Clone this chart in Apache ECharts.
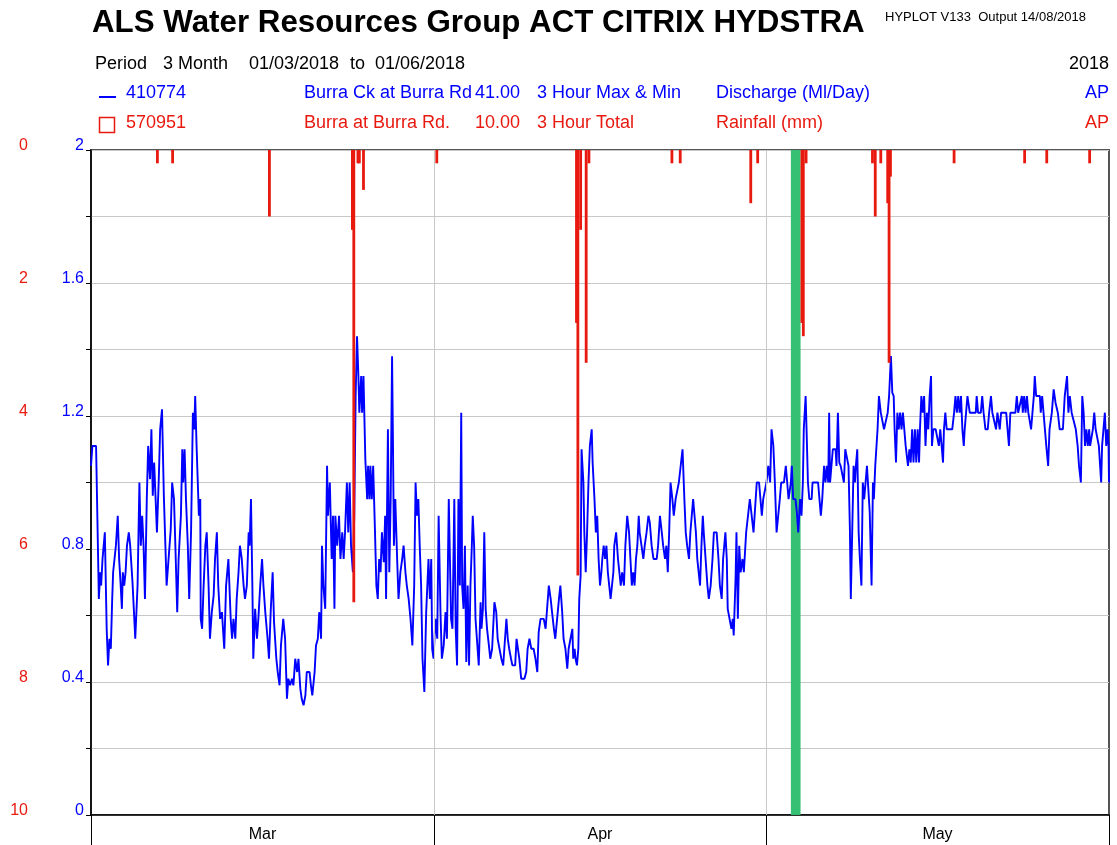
<!DOCTYPE html>
<html>
<head>
<meta charset="utf-8">
<title>Burra Ck at Burra Rd - Discharge and Rainfall</title>
<script src="https://cdn.jsdelivr.net/npm/echarts@6/dist/echarts.min.js"></script>
<style>
  html, body { margin: 0; padding: 0; background: #fff; }
  #chart { width: 1117px; height: 845px; }
</style>
</head>
<body>
<div id="chart"></div>
<script>
// Period 01/03/2018 to 01/06/2018; x values are hours since 01/03/2018 00:00
const monthNames = ['Mar', 'Apr', 'May'];
const monthStartHours = [0, 744, 1464, 2208];

// 410774 Burra Ck at Burra Rd - discharge (Ml/Day), 3 hour max & min  [hour, value]
const discharge = [
  [0,1.05],[3,1.11],[11,1.11],[16,0.73],[17,0.65],[20,0.73],[22,0.69],[25,0.77],[30,0.85],[34,0.56],
  [37,0.45],[40,0.53],[43,0.50],[46,0.65],[48,0.73],[51,0.77],[54,0.81],[58,0.90],[61,0.77],[64,0.70],
  [67,0.62],[69,0.73],[72,0.69],[75,0.73],[78,0.81],[82,0.85],[85,0.81],[90,0.70],[96,0.53],[101,0.69],
  [105,1.00],[108,0.81],[111,0.90],[114,0.81],[117,0.65],[121,0.95],[124,1.11],[128,1.01],[131,1.16],[134,0.96],
  [137,1.06],[143,0.85],[147,1.01],[150,1.16],[154,1.22],[158,0.96],[164,0.69],[168,0.69],[173,0.86],[176,1.00],
  [180,0.95],[183,0.81],[187,0.61],[190,0.77],[195,0.90],[198,1.10],[200,1.00],[203,1.10],[206,0.95],[210,0.81],
  [213,0.65],[217,0.85],[221,1.21],[224,1.16],[226,1.26],[229,1.11],[234,0.90],[237,0.95],[238,0.59],[241,0.56],
  [244,0.68],[248,0.81],[251,0.85],[255,0.69],[258,0.53],[262,0.61],[266,0.66],[269,0.77],[273,0.85],[276,0.69],
  [280,0.59],[284,0.61],[289,0.50],[293,0.69],[298,0.77],[303,0.59],[306,0.53],[309,0.59],[313,0.53],[316,0.65],
  [320,0.73],[323,0.81],[327,0.77],[331,0.69],[334,0.65],[338,0.69],[342,0.85],[344,0.81],[347,0.95],[350,0.69],
  [352,0.47],[356,0.62],[360,0.53],[363,0.59],[367,0.69],[371,0.77],[374,0.69],[378,0.61],[383,0.53],[386,0.47],
  [390,0.62],[394,0.73],[397,0.58],[402,0.47],[405,0.43],[409,0.39],[412,0.51],[417,0.59],[421,0.53],[425,0.35],
  [428,0.41],[432,0.39],[436,0.41],[439,0.39],[443,0.47],[447,0.43],[450,0.47],[454,0.38],[457,0.35],[461,0.33],
  [465,0.36],[468,0.43],[474,0.43],[477,0.39],[480,0.36],[485,0.43],[488,0.51],[492,0.53],[495,0.61],[499,0.53],
  [501,0.81],[504,0.69],[508,0.62],[512,1.05],[514,0.90],[518,1.00],[522,0.77],[525,0.90],[528,0.62],[530,0.90],
  [534,0.81],[538,0.90],[541,0.77],[545,0.85],[548,0.77],[551,0.85],[555,1.00],[558,0.85],[561,1.00],[564,0.81],
  [568,0.73],[571,0.90],[574,1.26],[577,1.44],[580,1.32],[582,1.21],[586,1.32],[588,1.21],[591,1.32],[595,1.07],
  [599,0.95],[601,1.05],[604,0.95],[606,1.05],[609,0.95],[612,1.05],[616,0.85],[619,0.69],[622,0.65],[625,0.77],
  [628,0.73],[631,0.85],[635,0.76],[638,0.90],[640,0.65],[644,1.16],[647,0.73],[650,0.95],[653,1.38],[655,1.11],
  [657,0.81],[660,0.95],[664,0.77],[667,0.65],[671,0.73],[675,0.77],[678,0.81],[682,0.73],[685,0.69],[689,0.65],
  [693,0.59],[697,0.51],[701,0.69],[704,1.00],[707,0.90],[710,0.95],[713,0.81],[716,0.69],[719,0.47],[723,0.37],
  [727,0.61],[732,0.77],[735,0.65],[738,0.77],[740,0.50],[743,0.47],[747,0.59],[751,0.53],[754,0.90],[758,0.61],
  [761,0.47],[765,0.51],[769,0.61],[772,0.53],[776,0.95],[777,0.95],[781,0.59],[784,0.56],[788,0.95],[791,0.56],
  [794,0.45],[797,0.95],[800,0.69],[803,1.21],[805,0.69],[808,0.62],[811,0.81],[814,0.46],[817,0.69],[820,0.45],
  [823,0.69],[826,0.81],[828,0.90],[831,0.81],[834,0.59],[837,0.53],[841,0.45],[845,0.64],[847,0.56],[850,0.62],
  [853,0.85],[856,0.62],[859,0.56],[863,0.51],[866,0.47],[870,0.50],[875,0.64],[879,0.61],[882,0.53],[886,0.50],
  [890,0.47],[894,0.45],[898,0.53],[901,0.59],[904,0.53],[907,0.50],[911,0.47],[914,0.45],[920,0.45],[923,0.53],
  [926,0.50],[929,0.47],[933,0.41],[940,0.41],[944,0.43],[947,0.50],[951,0.53],[955,0.50],[960,0.50],[964,0.47],
  [968,0.43],[971,0.55],[975,0.59],[982,0.59],[986,0.56],[989,0.56],[993,0.69],[997,0.65],[1000,0.61],[1004,0.56],
  [1007,0.53],[1011,0.59],[1015,0.65],[1018,0.69],[1022,0.61],[1025,0.53],[1029,0.50],[1033,0.44],[1036,0.50],[1040,0.53],
  [1044,0.56],[1046,0.47],[1049,0.50],[1051,0.47],[1054,0.45],[1057,0.50],[1059,0.65],[1062,0.72],[1064,1.10],[1068,1.00],
  [1070,0.85],[1073,0.73],[1076,0.85],[1079,1.00],[1082,1.11],[1086,1.16],[1088,1.06],[1092,0.95],[1095,0.85],[1098,0.90],
  [1101,0.77],[1104,0.69],[1107,0.73],[1109,0.77],[1112,0.81],[1115,0.77],[1118,0.81],[1121,0.73],[1124,0.69],[1127,0.65],
  [1130,0.69],[1133,0.73],[1135,0.81],[1139,0.85],[1143,0.77],[1146,0.73],[1149,0.69],[1152,0.73],[1156,0.69],[1159,0.81],
  [1163,0.90],[1167,0.85],[1170,0.77],[1173,0.69],[1176,0.73],[1179,0.69],[1182,0.77],[1185,0.81],[1188,0.90],[1190,0.85],
  [1194,0.81],[1198,0.77],[1201,0.81],[1205,0.85],[1209,0.90],[1212,0.88],[1216,0.81],[1220,0.77],[1227,0.77],[1230,0.81],
  [1234,0.90],[1238,0.85],[1241,0.81],[1245,0.77],[1248,0.81],[1251,0.73],[1254,0.85],[1257,1.00],[1261,0.95],[1264,0.90],
  [1268,0.95],[1272,0.95],[1275,1.00],[1279,1.00],[1283,1.10],[1287,0.95],[1290,0.85],[1293,0.81],[1297,0.77],[1300,0.85],
  [1303,0.90],[1306,0.95],[1309,0.95],[1312,0.85],[1315,0.77],[1318,0.73],[1321,0.69],[1324,0.81],[1327,0.90],[1329,0.85],
  [1333,0.77],[1337,0.69],[1340,0.65],[1344,0.69],[1348,0.77],[1351,0.85],[1357,0.85],[1361,0.77],[1364,0.69],[1368,0.65],
  [1371,0.77],[1376,0.85],[1379,0.77],[1381,0.62],[1385,0.59],[1389,0.56],[1392,0.59],[1394,0.54],[1398,0.71],[1400,0.85],
  [1403,0.59],[1406,0.81],[1409,0.73],[1413,0.77],[1416,0.73],[1421,0.85],[1425,0.85],[1429,0.95],[1433,0.90],[1437,0.85],
  [1440,0.85],[1444,1.00],[1449,1.00],[1452,0.95],[1455,0.90],[1458,0.95],[1462,0.95],[1465,1.00],[1469,1.05],[1473,1.00],
  [1476,1.16],[1480,1.11],[1483,1.01],[1487,0.85],[1490,0.85],[1494,0.95],[1497,1.00],[1503,1.00],[1507,1.05],[1510,1.00],
  [1513,0.95],[1518,1.00],[1520,1.05],[1523,0.95],[1528,0.95],[1531,0.91],[1534,0.85],[1538,0.95],[1541,0.90],[1544,1.00],
  [1546,1.16],[1550,1.26],[1552,1.16],[1555,1.00],[1558,0.95],[1563,0.95],[1565,1.00],[1577,1.00],[1580,0.95],[1583,0.90],
  [1586,0.95],[1590,1.05],[1593,1.00],[1596,1.05],[1599,1.00],[1601,1.21],[1603,1.00],[1606,1.05],[1609,1.10],[1615,1.10],
  [1617,1.05],[1620,1.21],[1623,1.06],[1626,1.05],[1630,1.05],[1633,1.00],[1636,1.10],[1639,1.10],[1643,1.05],[1646,0.86],
  [1648,0.65],[1651,0.85],[1654,1.05],[1657,1.00],[1659,1.05],[1662,1.10],[1665,0.85],[1668,0.76],[1671,0.69],[1674,1.00],
  [1677,0.95],[1680,0.95],[1683,1.05],[1686,1.05],[1689,0.91],[1693,0.69],[1696,1.00],[1698,0.95],[1701,1.05],[1706,1.16],
  [1709,1.26],[1713,1.21],[1717,1.21],[1720,1.16],[1724,1.16],[1728,1.21],[1731,1.26],[1735,1.38],[1738,1.27],[1741,1.26],
  [1743,1.16],[1746,1.06],[1749,1.21],[1752,1.16],[1755,1.21],[1758,1.16],[1761,1.21],[1764,1.16],[1767,1.11],[1769,1.11],
  [1772,1.05],[1775,1.10],[1778,1.06],[1781,1.16],[1784,1.06],[1787,1.16],[1790,1.06],[1793,1.16],[1796,1.06],[1798,1.16],
  [1801,1.26],[1804,1.21],[1807,1.26],[1810,1.11],[1813,1.21],[1816,1.16],[1819,1.26],[1822,1.32],[1824,1.11],[1827,1.16],
  [1832,1.16],[1836,1.16],[1839,1.11],[1842,1.16],[1845,1.11],[1848,1.06],[1850,1.16],[1853,1.21],[1856,1.16],[1868,1.16],
  [1872,1.21],[1875,1.26],[1878,1.21],[1881,1.26],[1884,1.21],[1887,1.26],[1890,1.16],[1893,1.11],[1895,1.16],[1898,1.21],
  [1901,1.26],[1906,1.21],[1919,1.21],[1921,1.26],[1924,1.21],[1930,1.21],[1933,1.26],[1936,1.21],[1940,1.16],[1945,1.16],
  [1948,1.21],[1952,1.26],[1955,1.21],[1959,1.21],[1963,1.16],[1966,1.21],[1971,1.16],[1974,1.21],[1985,1.21],[1988,1.16],
  [1991,1.11],[1994,1.21],[2005,1.21],[2008,1.26],[2011,1.21],[2015,1.21],[2019,1.26],[2021,1.21],[2024,1.26],[2027,1.21],
  [2030,1.26],[2033,1.21],[2036,1.21],[2039,1.16],[2042,1.21],[2045,1.26],[2047,1.32],[2050,1.26],[2058,1.26],[2060,1.21],
  [2063,1.26],[2066,1.21],[2069,1.16],[2072,1.11],[2076,1.05],[2079,1.16],[2084,1.21],[2088,1.28],[2092,1.24],[2097,1.21],
  [2101,1.16],[2108,1.16],[2112,1.26],[2117,1.32],[2120,1.21],[2123,1.26],[2127,1.21],[2131,1.21],[2136,1.16],[2140,1.11],
  [2143,1.05],[2147,1.00],[2150,1.26],[2153,1.21],[2156,1.11],[2159,1.16],[2162,1.11],[2165,1.16],[2167,1.11],[2170,1.11],
  [2173,1.16],[2176,1.21],[2179,1.16],[2182,1.16],[2186,1.11],[2191,1.00],[2193,1.11],[2196,1.16],[2199,1.21],[2202,1.11],
  [2205,1.16],[2207,1.11],[2208,1.00]
];

// 570951 Burra at Burra Rd. - rainfall (mm), 3 hour totals  [hour, mm]
const rainfall = [
  [144,0.2],[177,0.2],[387,1.0],
  [567,1.2],[570,6.8],[579,0.2],[582,0.2],[591,0.6],
  [750,0.2],
  [1053,2.6],[1056,6.4],[1062,1.2],[1074,3.2],[1080,0.2],
  [1260,0.2],[1278,0.2],[1431,0.8],[1446,0.2],
  [1542,2.6],[1545,2.8],[1551,0.2],
  [1695,0.2],[1701,1.0],[1713,0.2],[1728,0.8],[1731,3.2],[1734,0.4],
  [1872,0.2],[2025,0.2],[2073,0.2],[2166,0.2]
];

// highlighted interval (hours)
const markedPeriod = [1518, 1539];

const FONT = '"Liberation Sans", Arial, Helvetica, sans-serif';
const BLUE = '#0000ff';
const RED = '#e8190f';
const GREEN = '#2fbe6e';
const GRID_GREY = '#c8c8c8';

const monthMidHours = monthNames.map((_, i) => (monthStartHours[i] + monthStartHours[i + 1]) / 2);

function txt(text, x, y, size, color, align, weight) {
  return {
    type: 'text', x: x, y: y, silent: true, z: 10,
    style: {
      text: text, fill: color,
      font: (weight || 'normal') + ' ' + size + 'px ' + FONT,
      align: align || 'left', textAlign: align || 'left',
      verticalAlign: 'middle', textVerticalAlign: 'middle'
    }
  };
}

const headerRow = 18;
const graphics = [
  txt('ALS Water Resources Group ACT CITRIX HYDSTRA', 92, 23, 31.3, '#000', 'left', 'bold'),
  txt('HYPLOT V133  Output 14/08/2018', 885, 17, 13, '#000'),

  txt('Period', 95, 64, headerRow, '#000'),
  txt('3 Month', 163, 64, headerRow, '#000'),
  txt('01/03/2018', 249, 64, headerRow, '#000'),
  txt('to', 350, 64, headerRow, '#000'),
  txt('01/06/2018', 375, 64, headerRow, '#000'),
  txt('2018', 1109, 64, headerRow, '#000', 'right'),

  { type: 'line', silent: true, shape: { x1: 99, y1: 97, x2: 116, y2: 97 }, style: { stroke: BLUE, lineWidth: 2 } },
  txt('410774', 126, 93, headerRow, BLUE),
  txt('Burra Ck at Burra Rd', 304, 93, headerRow, BLUE),
  txt('41.00', 520, 93, headerRow, BLUE, 'right'),
  txt('3 Hour Max & Min', 537, 93, headerRow, BLUE),
  txt('Discharge (Ml/Day)', 716, 93, headerRow, BLUE),
  txt('AP', 1109, 93, headerRow, BLUE, 'right'),

  { type: 'rect', silent: true, shape: { x: 99.5, y: 117.5, width: 15, height: 15 }, style: { fill: 'none', stroke: RED, lineWidth: 1.5 } },
  txt('570951', 126, 123, headerRow, RED),
  txt('Burra at Burra Rd.', 304, 123, headerRow, RED),
  txt('10.00', 520, 123, headerRow, RED, 'right'),
  txt('3 Hour Total', 537, 123, headerRow, RED),
  txt('Rainfall (mm)', 716, 123, headerRow, RED),
  txt('AP', 1109, 123, headerRow, RED, 'right')
];

const chart = echarts.init(document.getElementById('chart'), null, { renderer: 'canvas' });

chart.setOption({
  animation: false,
  backgroundColor: '#fff',
  textStyle: { fontFamily: FONT },
  grid: {
    left: 91, right: 8, top: 150, bottom: 30,
    show: true, borderColor: '#555', borderWidth: 2, backgroundColor: 'transparent'
  },
  graphic: graphics,
  xAxis: {
    type: 'value',
    min: monthStartHours[0],
    max: monthStartHours[monthStartHours.length - 1],
    axisLine: { show: true, onZero: false, lineStyle: { color: '#000', width: 1.5 } },
    axisTick: { show: true, customValues: monthStartHours, length: 30, lineStyle: { color: '#000', width: 1 } },
    axisLabel: {
      customValues: monthMidHours,
      formatter: v => monthNames[monthMidHours.indexOf(v)] || '',
      color: '#000', fontSize: 16, fontFamily: FONT, margin: 12
    },
    splitLine: { show: false }
  },
  yAxis: [
    {
      type: 'value', min: 0, max: 2, interval: 0.2, position: 'left',
      axisLine: { show: true, lineStyle: { color: '#000', width: 1.5 } },
      axisTick: { show: true, length: 5, lineStyle: { color: '#000' } },
      axisLabel: {
        color: BLUE, fontSize: 16, fontFamily: FONT, margin: 7,
        verticalAlign: 'bottom', lineHeight: 8,
        formatter: v => (Math.round(v * 10) % 4 === 0 ? String(Math.round(v * 10) / 10) : '')
      },
      splitLine: { show: true, lineStyle: { color: GRID_GREY, width: 1 } }
    },
    {
      type: 'value', min: 0, max: 10, interval: 2, inverse: true, position: 'left', offset: 55,
      axisLine: { show: false },
      axisTick: { show: false },
      axisLabel: {
        color: RED, fontSize: 16, fontFamily: FONT, margin: 8,
        verticalAlign: 'bottom', lineHeight: 8
      },
      splitLine: { show: false }
    }
  ],
  series: [
    {
      name: 'month boundaries', type: 'line', data: [], z: 1, silent: true,
      markLine: {
        silent: true, symbol: 'none', animation: false,
        label: { show: false },
        lineStyle: { color: GRID_GREY, width: 1, type: 'solid' },
        data: monthStartHours.slice(1, -1).map(h => ({ xAxis: h }))
      }
    },
    {
      name: 'Discharge (Ml/Day)', type: 'line', data: discharge, z: 2,
      showSymbol: false, symbol: 'none', smooth: false, sampling: null,
      lineStyle: { color: BLUE, width: 1.9 }
    },
    {
      name: 'marked period', type: 'line', data: [], z: 3, silent: true,
      markArea: {
        silent: true, animation: false,
        itemStyle: { color: GREEN, opacity: 0.97 },
        data: [[{ xAxis: markedPeriod[0] }, { xAxis: markedPeriod[1] }]]
      }
    },
    {
      name: 'Rainfall (mm)', type: 'bar', data: rainfall, yAxisIndex: 1, z: 4,
      barWidth: 2.8, itemStyle: { color: RED }
    }
  ]
});
</script>
</body>
</html>
